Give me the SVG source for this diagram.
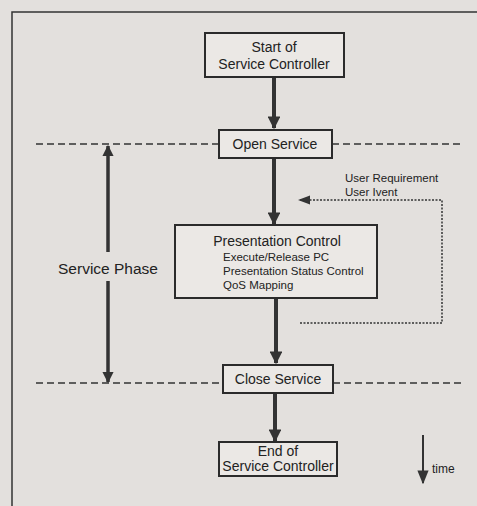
<svg xmlns="http://www.w3.org/2000/svg" width="477" height="506" viewBox="0 0 477 506">
<style>
.box{fill:#ebe8e5;stroke:#2b2b2b;stroke-width:2}
.t{font-family:"Liberation Sans",Arial,sans-serif;font-size:14px;fill:#222;text-anchor:middle}
.s{font-family:"Liberation Sans",Arial,sans-serif;font-size:11.5px;fill:#222}
.flow{stroke:#333;stroke-width:4;fill:none}
.dash{stroke:#333;stroke-width:1.5;stroke-dasharray:7,4;fill:none}
.dot{stroke:#333;stroke-width:1.5;stroke-dasharray:2,1.5;fill:none}
.phase{stroke:#333;stroke-width:3.5;fill:none}
.thin{stroke:#333;stroke-width:2;fill:none}
</style>
<defs>
<marker id="ah" viewBox="0 0 10 10" refX="9" refY="5" markerWidth="3.2" markerHeight="3.2" orient="auto" markerUnits="strokeWidth"><path d="M0,0 L10,5 L0,10 z" fill="#333"/></marker>
<marker id="ah3" viewBox="0 0 10 10" refX="9" refY="5" markerWidth="7" markerHeight="7" orient="auto" markerUnits="strokeWidth"><path d="M0,1 L10,5 L0,9 z" fill="#333"/></marker>
</defs>
<rect width="477" height="506" fill="#e3e0dd"/>
<path d="M12,506 V12 H477" stroke="#333" stroke-width="1.5" fill="none"/>
<g id="connectors">
<line class="flow" x1="274" y1="78" x2="274" y2="128" marker-end="url(#ah)"/>
<line class="flow" x1="274" y1="158" x2="274" y2="224" marker-end="url(#ah)"/>
<line class="flow" x1="276" y1="299" x2="276" y2="363" marker-end="url(#ah)"/>
<line class="flow" x1="275" y1="393" x2="275" y2="441" marker-end="url(#ah)"/>
<line class="dash" x1="36" y1="144" x2="219" y2="144"/>
<line class="dash" x1="332" y1="144" x2="460" y2="144"/>
<line class="dash" x1="36" y1="383" x2="223" y2="383"/>
<line class="dash" x1="333" y1="383" x2="464" y2="383"/>
<path class="dot" d="M300,323 H442 V200 H300"/>
<path d="M298,200 L310,195.5 L310,204.5 z" fill="#333"/>
<line class="phase" x1="108" y1="252" x2="108" y2="146" marker-end="url(#ah)"/>
<line class="phase" x1="108" y1="281" x2="108" y2="382" marker-end="url(#ah)"/>
<line class="thin" x1="423" y1="435" x2="423" y2="483" marker-end="url(#ah3)"/>
</g>
<g id="start"><rect class="box" x="205" y="33" width="139" height="44"/><text class="t" x="274" y="52">Start of</text><text class="t" x="274" y="69">Service Controller</text></g>
<g id="open"><rect class="box" x="219" y="130" width="113" height="28"/><text class="t" x="275" y="149">Open Service</text></g>
<g id="pc"><rect class="box" x="175" y="225" width="202" height="73"/><text class="t" x="277" y="246">Presentation Control</text><text class="s" x="223" y="261">Execute/Release PC</text><text class="s" x="223" y="275">Presentation Status Control</text><text class="s" x="223" y="289">QoS Mapping</text></g>
<g id="close"><rect class="box" x="223" y="365" width="110" height="28"/><text class="t" x="278" y="384">Close Service</text></g>
<g id="end"><rect class="box" x="219" y="442" width="118" height="34"/><text class="t" x="278" y="456">End of</text><text class="t" x="278" y="471">Service Controller</text></g>
<g id="labels">
<text class="s" x="345" y="182">User Requirement</text>
<text class="s" x="345" y="196">User Ivent</text>
<text class="t" x="108" y="274" style="font-size:15.5px">Service Phase</text>
<text class="s" x="432" y="473" style="font-size:12px">time</text>
</g>
</svg>
